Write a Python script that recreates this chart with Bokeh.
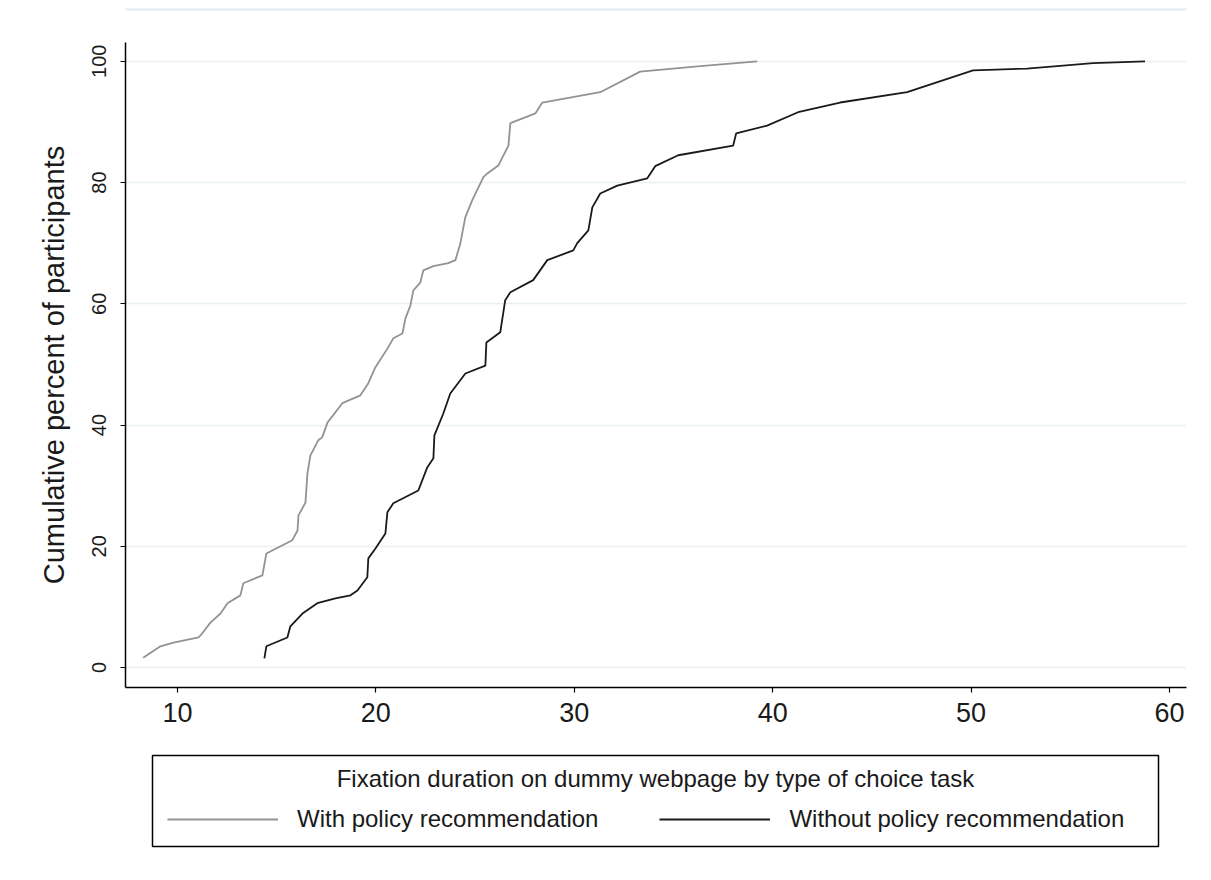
from bokeh.plotting import figure
from bokeh.layouts import column
from bokeh.models import Range1d, FixedTicker, Legend, LegendItem, ColumnDataSource, Label, Span
from bokeh.embed import file_html
from bokeh.resources import INLINE

# With policy recommendation (fixation duration, cumulative percent)
with_x = [8.27, 9.14, 9.80, 11.06, 11.24, 11.66, 12.17, 12.52, 13.17, 13.32, 14.28, 14.48,
          15.79, 16.05, 16.10, 16.45, 16.55, 16.70, 17.10, 17.30, 17.56, 18.31, 19.22, 19.62,
          19.97, 20.58, 20.88, 21.34, 21.49, 21.74, 21.89, 22.24, 22.39, 22.90, 23.65, 24.01,
          24.26, 24.51, 24.86, 25.42, 25.62, 26.17, 26.68, 26.78, 28.04, 28.39, 31.31, 33.32,
          36.35, 39.22]
with_y = [1.6, 3.5, 4.1, 4.95, 5.6, 7.4, 8.9, 10.6, 11.9, 13.9, 15.2, 18.8,
          21.0, 22.6, 25.1, 27.2, 32.0, 35.0, 37.5, 38.0, 40.4, 43.6, 44.9, 46.9,
          49.5, 52.6, 54.3, 55.1, 57.6, 59.7, 62.2, 63.5, 65.5, 66.2, 66.7, 67.2,
          70.0, 74.3, 77.1, 80.9, 81.5, 82.8, 86.1, 89.8, 91.4, 93.2, 94.9, 98.3,
          99.2, 100.0]

# Without policy recommendation
without_x = [14.38, 14.48, 15.54, 15.69, 16.30, 17.05, 17.96, 18.72, 19.07, 19.57, 19.62, 19.97,
             20.48, 20.58, 20.88, 22.14, 22.59, 22.90, 22.95, 23.40, 23.75, 24.51, 25.52, 25.57,
             26.27, 26.52, 26.78, 27.93, 28.64, 29.95, 30.15, 30.71, 30.91, 31.31, 32.17, 33.68,
             34.08, 35.24, 38.01, 38.16, 39.72, 41.28, 43.40, 46.78, 50.10, 52.82, 56.15, 58.77]
without_y = [1.5, 3.5, 4.95, 6.8, 8.9, 10.6, 11.4, 11.9, 12.7, 14.9, 18.0, 19.6,
             22.1, 25.6, 27.1, 29.2, 33.0, 34.5, 38.3, 41.9, 45.2, 48.5, 49.8, 53.6,
             55.3, 60.6, 61.9, 63.9, 67.2, 68.8, 70.0, 72.1, 75.9, 78.2, 79.5, 80.7,
             82.7, 84.5, 86.1, 88.1, 89.4, 91.6, 93.2, 94.9, 98.5, 98.8, 99.7, 100.0]

x_ticks = [10, 20, 30, 40, 50, 60]
y_ticks = [0, 20, 40, 60, 80, 100]
series_names = ["With policy recommendation", "Without policy recommendation"]
series_colors = ["#939393", "#1a1a1a"]
legend_title = "Fixation duration on dummy webpage by type of choice task"
y_label = "Cumulative percent of participants"

FONT = "Liberation Sans"
W = 1211
FL, FR = 125, 1186          # frame left/right in page pixels
TOP_H = 12
MAIN_H = 30 + 645 + 50
LH = 880 - TOP_H - MAIN_H   # legend panel height
Y0 = TOP_H + MAIN_H         # page y of legend panel top

# thin rule at the very top of the graph region
top = figure(width=W, height=TOP_H, output_backend="svg", toolbar_location=None,
             x_range=Range1d(FL, FR), y_range=Range1d(TOP_H, 0),
             min_border=0, x_axis_type=None, y_axis_type=None)
top.outline_line_color = None
top.xgrid.grid_line_color = None
top.ygrid.grid_line_color = None
top.add_layout(Span(location=9, dimension="width", line_color="#e4ebef", line_width=2))

# main chart
p = figure(width=W, height=MAIN_H, output_backend="svg", toolbar_location=None,
           x_range=Range1d(7.38, 60.86), y_range=Range1d(-3.3, 103.1),
           min_border_left=FL, min_border_right=W - FR, min_border_top=30, min_border_bottom=50)
p.background_fill_color = "white"
p.border_fill_color = "white"
p.outline_line_color = None

src_w = ColumnDataSource(dict(x=with_x, y=with_y))
src_wo = ColumnDataSource(dict(x=without_x, y=without_y))
p.line("x", "y", source=src_w, line_color=series_colors[0], line_width=1.8)
p.line("x", "y", source=src_wo, line_color=series_colors[1], line_width=1.8)

p.xaxis.ticker = FixedTicker(ticks=x_ticks)
p.yaxis.ticker = FixedTicker(ticks=y_ticks)
p.xaxis.minor_tick_line_color = None
p.yaxis.minor_tick_line_color = None
for ax in (p.xaxis[0], p.yaxis[0]):
    ax.axis_line_color = "black"
    ax.axis_line_width = 1.5
    ax.major_tick_line_color = "black"
    ax.major_tick_line_width = 1.2
    ax.major_tick_out = 5
    ax.major_tick_in = 0
    ax.major_label_text_font = FONT
    ax.major_label_text_color = "#1a1a1a"
    ax.axis_label_text_font = FONT
    ax.axis_label_text_font_style = "normal"
    ax.axis_label_text_color = "#1a1a1a"
p.xaxis.major_label_text_font_size = "27px"
p.yaxis.major_label_text_font_size = "20px"
p.yaxis.major_label_orientation = "vertical"
p.yaxis.axis_label = y_label
p.yaxis.axis_label_text_font_size = "29px"
p.yaxis.axis_label_standoff = 20
p.yaxis.major_label_standoff = 14
p.xaxis.major_label_standoff = 10

p.xgrid.grid_line_color = None
p.ygrid.grid_line_color = "#e9f0f2"
p.ygrid.grid_line_width = 1.5

# legend panel: x = page pixels, y = page pixels below Y0 (downward)
lf = figure(width=W, height=LH, output_backend="svg", toolbar_location=None,
            x_range=Range1d(FL, FR), y_range=Range1d(LH, 0),
            min_border=0, x_axis_type=None, y_axis_type=None)
lf.outline_line_color = None
lf.xgrid.grid_line_color = None
lf.ygrid.grid_line_color = None
box_left, box_right, box_top, box_bottom = 152, 1158, 755 - Y0, 846 - Y0
lf.quad(left=[box_left], right=[box_right], top=[box_top], bottom=[box_bottom],
        fill_color="white", line_color="black", line_width=1.5)
k1 = lf.line(x=[-10, -5], y=[-10, -10], line_color=series_colors[0], line_width=1.8)
k2 = lf.line(x=[-10, -5], y=[-10, -10], line_color=series_colors[1], line_width=1.8)

row_center = 820 - Y0
legend = Legend(items=[LegendItem(label=series_names[0], renderers=[k1]),
                       LegendItem(label=series_names[1], renderers=[k2])],
                orientation="horizontal", location=(167 - FL, LH - row_center - 13))
legend.label_text_font = FONT
legend.label_text_font_size = "24px"
legend.label_text_color = "#1a1a1a"
legend.label_height = 26
legend.glyph_height = 26
legend.glyph_width = 111
legend.label_standoff = 19
legend.spacing = 61
legend.padding = 0
legend.margin = 0
legend.border_line_color = None
legend.background_fill_alpha = 0
lf.add_layout(legend, "center")

lf.add_layout(Label(x=(box_left + box_right) / 2, y=778 - Y0, text=legend_title,
                    text_align="center", text_baseline="middle", text_font=FONT,
                    text_font_size="24px", text_color="#1a1a1a"))

layout = column(top, p, lf, spacing=0)
open("out.html", "w").write(file_html(layout, INLINE))
